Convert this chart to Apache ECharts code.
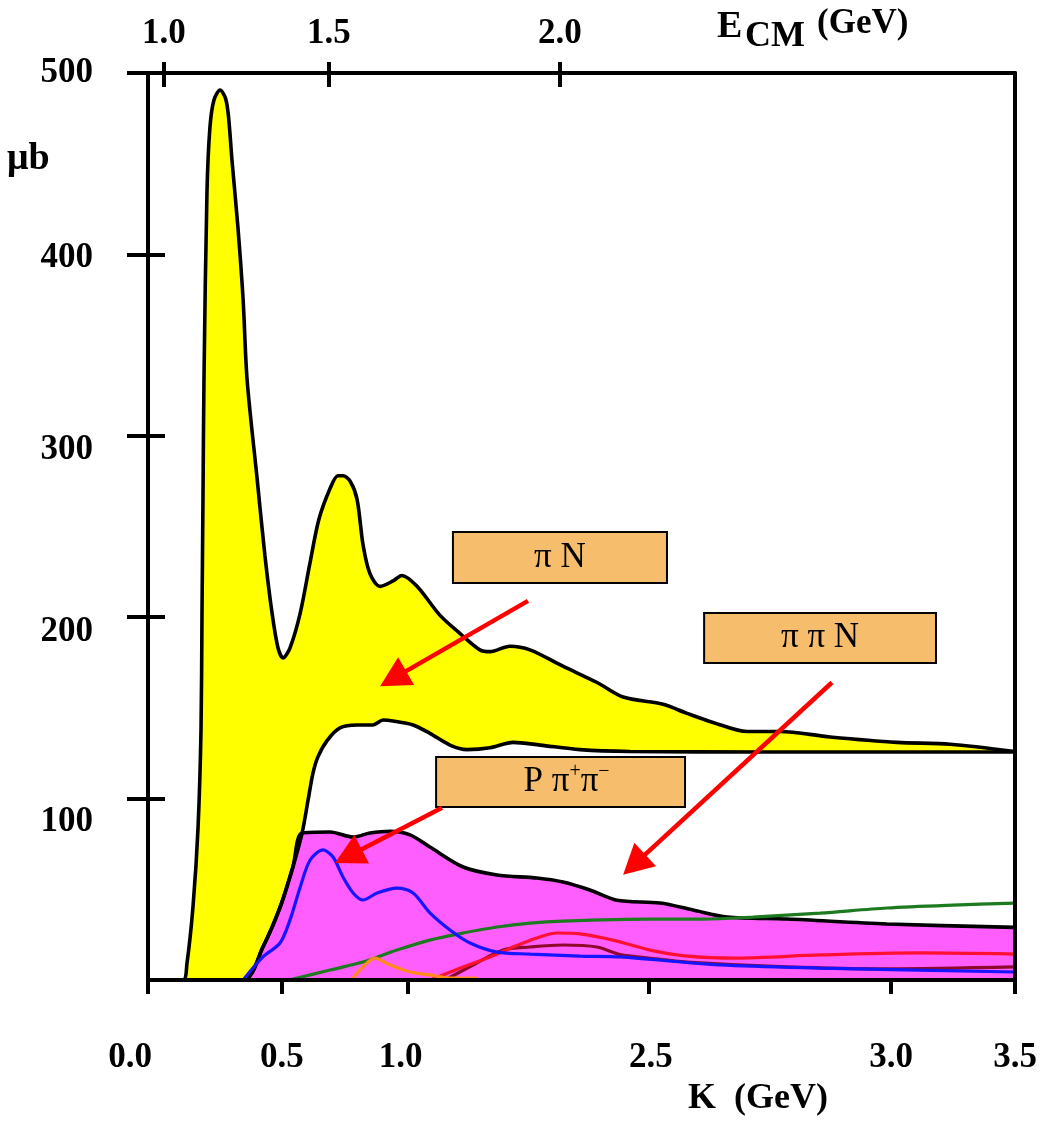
<!DOCTYPE html>
<html><head><meta charset="utf-8">
<script src="https://cdn.jsdelivr.net/npm/echarts@6/dist/echarts.min.js"></script>
<style>html,body{margin:0;padding:0;background:#fff}#c{width:1055px;height:1122px}</style>
</head><body><div id="c"></div>
<script>
// ---------- data (K in GeV, sigma in microbarn) ----------
const totalK = [0, 0.141, 0.157, 0.182, 0.202, 0.214, 0.218, 0.222, 0.226, 0.238, 0.250, 0.266, 0.291, 0.313, 0.325, 0.339, 0.363, 0.384, 0.400, 0.440, 0.472, 0.501, 0.525, 0.545, 0.573, 0.614, 0.654, 0.690, 0.735, 0.767, 0.787, 0.816, 0.844, 0.868, 0.896, 0.937, 0.989, 1.025, 1.086, 1.179, 1.260, 1.340, 1.381, 1.461, 1.542, 1.675, 1.813, 1.918, 2.079, 2.176, 2.281, 2.418, 2.551, 2.753, 3.024, 3.238, 3.5];
const totalS = [0, 0, 8.8, 41, 84, 138, 202, 266, 331, 434, 470, 485, 490.6, 486, 476, 452, 415, 375, 331, 277, 234, 202, 183, 177.5, 183, 202, 230, 254, 271, 278, 278, 275, 265, 240, 224, 217, 220, 223, 217, 201, 191, 182, 181, 184, 182, 173, 164, 156, 152, 147, 142, 137, 137, 134, 131, 130, 126];

const lowerK = [0, 0.384, 0.464, 0.533, 0.585, 0.622, 0.646, 0.666, 0.686, 0.723, 0.775, 0.844, 0.908, 0.949, 0.989, 1.070, 1.138, 1.219, 1.288, 1.381, 1.474, 1.583, 1.744, 1.946, 2.483, 3.5];
const lowerS = [0, 0, 18.2, 40, 62.3, 81, 99, 114, 123, 132, 139, 140.6, 140.6, 143.3, 142.8, 140.6, 136, 129.5, 127, 128, 131, 129.5, 127, 126, 125.7, 125.7];

const ppnK = [0, 0.384, 0.464, 0.533, 0.585, 0.622, 0.735, 0.828, 0.896, 0.977, 1.058, 1.138, 1.272, 1.409, 1.570, 1.675, 1.784, 1.893, 2.067, 2.200, 2.338, 2.580, 2.983, 3.5];
const ppnS = [0, 0, 18.2, 40, 62.3, 81, 81.6, 78.8, 81, 82, 80, 73.3, 62.3, 57.9, 56.2, 54, 49.6, 44, 42.4, 38.6, 34.7, 33.6, 30.9, 29];

const blueK = [0.384, 0.464, 0.533, 0.573, 0.614, 0.654, 0.707, 0.747, 0.787, 0.828, 0.868, 0.925, 1.005, 1.070, 1.138, 1.219, 1.300, 1.409, 1.542, 1.744, 1.906, 2.309, 2.713, 3.5];
const blueS = [0, 12.7, 20.4, 33, 51, 66, 71.7, 67.8, 56.8, 48, 44.1, 48, 50.7, 48, 37, 27.6, 20.4, 15.4, 14.3, 13.2, 12.7, 8.3, 6.6, 4.4];

const greenK = [0.57, 0.735, 0.868, 1.005, 1.138, 1.272, 1.409, 1.542, 1.675, 2.027, 2.241, 2.442, 2.713, 2.983, 3.250, 3.5];
const greenS = [0, 5.5, 9.9, 16.5, 22, 25.9, 29.2, 31.4, 32.5, 33.6, 33.6, 34.7, 36.9, 39.7, 41.3, 42.4];

const redK = [1.14, 1.272, 1.381, 1.474, 1.570, 1.651, 1.744, 1.877, 2.027, 2.176, 2.378, 2.713, 3.117, 3.5];
const redS = [0, 7.2, 12.7, 18.2, 23.2, 25.9, 25.4, 22, 16.5, 13.2, 12.1, 13.8, 14.9, 14.3];

const maroonK = [1.2, 1.32, 1.433, 1.542, 1.675, 1.813, 1.906, 2.027, 2.176, 2.580, 2.983, 3.5];
const maroonS = [0, 8.8, 16.5, 18.2, 19.3, 18.2, 14, 12, 9.9, 7.2, 6.1, 7.2];

const orangeK = [0.824, 0.868, 0.916, 0.977, 1.058, 1.138, 1.219, 1.328];
const orangeS = [0.5, 7.2, 12.1, 8.3, 4.4, 2.8, 1.1, 1.1];

// ---------- axes / ticks ----------
const bottomTickK = [0, 0.54, 1.05, 2.02, 3.0, 3.5];
const bottomLabelK = [0, 0.54, 1.02, 2.03, 3.0, 3.5];
const bottomTickLabels = ['0.0', '0.5', '1.0', '2.5', '3.0', '3.5'];
const yTickValues = [100, 200, 300, 400, 500];
const yLabelPos = [87, 192, 292, 398, 500];
const yTickLabels = ['100', '200', '300', '400', '500'];
const topTickE = [1.0, 1.5, 2.0];
const PROTON_MASS = 0.938;

// annotations: [text, K left, sigma top, K right, sigma bottom]
const boxes = [
  ['πN', 1.231, 247, 2.095, 218.9],
  ['ππN', 2.245, 202.3, 3.181, 174.8],
  ['Pππ', 1.163, 122.9, 2.168, 95.4]
];
// arrows: [K start, sigma start, K tip, sigma tip]
const arrows = [
  [1.534, 209, 0.937, 162],
  [2.761, 164, 1.918, 58],
  [1.187, 95, 0.755, 64.5]
];

const kFromE = e => (e * e - PROTON_MASS * PROTON_MASS) / (2 * PROTON_MASS);
const eFromK = k => Math.sqrt(PROTON_MASS * PROTON_MASS + 2 * PROTON_MASS * k);
const topTickK = topTickE.map(kFromE);
const pairs = (ks, ss) => ks.map((k, i) => [k, ss[i]]);
const nearest = (arr, v) => { let b = 0; arr.forEach((a, i) => { if (Math.abs(a - v) < Math.abs(arr[b] - v)) b = i; }); return b; };

const FONT = "'Liberation Serif', 'Times New Roman', serif";
const lbl = { fontFamily: FONT, fontWeight: 'bold', fontSize: 35, color: '#000' };

const chart = echarts.init(document.getElementById('c'), null, { renderer: 'canvas' });

function lineSeries(name, ks, ss, color, width, area) {
  const s = {
    name, type: 'line', data: pairs(ks, ss), smooth: 0.3, showSymbol: false, symbol: 'none',
    xAxisIndex: 0, yAxisIndex: 0,
    lineStyle: { color, width }, z: 2
  };
  if (area) s.areaStyle = { color: area, opacity: 1 };
  return s;
}
const tickStyle = { color: '#000', width: 4 };

chart.setOption({
  animation: false,
  backgroundColor: '#fff',
  grid: { left: 148, top: 73, width: 867, height: 907, show: false },
  xAxis: [
    {
      type: 'value', min: 0, max: 3.5, position: 'bottom', z: 10,
      axisLine: { show: true, onZero: false, lineStyle: { color: '#000', width: 4 } },
      axisTick: { show: true, customValues: bottomTickK, length: 14, lineStyle: tickStyle },
      axisLabel: Object.assign({
        customValues: bottomLabelK, margin: 60,
        formatter: v => { const i = nearest(bottomLabelK, v); return i === 0 ? '{z|' + bottomTickLabels[i] + '}' : bottomTickLabels[i]; },
        rich: { z: { fontFamily: FONT, fontWeight: 'bold', fontSize: 35, color: '#000', padding: [0, 36, 0, 0] } }
      }, lbl),
      splitLine: { show: false }
    },
    {
      type: 'value', min: 0, max: 3.5, position: 'top', z: 10,
      axisLine: { show: true, onZero: false, lineStyle: { color: '#000', width: 4 } },
      axisTick: { show: true, customValues: topTickK, length: 11, lineStyle: tickStyle },
      axisLabel: Object.assign({ customValues: topTickK, margin: 22, formatter: v => eFromK(v).toFixed(1) }, lbl),
      splitLine: { show: false }
    },
    {
      type: 'value', min: 0, max: 3.5, position: 'top', z: 10,
      axisLine: { show: false, onZero: false },
      axisTick: { show: true, inside: true, customValues: topTickK, length: 14, lineStyle: tickStyle },
      axisLabel: { show: false }, splitLine: { show: false }
    }
  ],
  yAxis: [
    {
      type: 'value', min: 0, max: 500, position: 'left', z: 10,
      axisLine: { show: true, onZero: false, lineStyle: { color: '#000', width: 4 } },
      axisTick: { show: true, customValues: yTickValues, length: 21, lineStyle: tickStyle },
      axisLabel: Object.assign({ customValues: yLabelPos, margin: 55, formatter: v => yTickLabels[nearest(yLabelPos, v)] }, lbl),
      splitLine: { show: false }
    },
    {
      type: 'value', min: 0, max: 500, position: 'left', z: 10,
      axisLine: { show: false, onZero: false },
      axisTick: { show: true, inside: true, customValues: yTickValues, length: 17, lineStyle: tickStyle },
      axisLabel: { show: false }, splitLine: { show: false }
    },
    {
      type: 'value', min: 0, max: 500, position: 'right', z: 10,
      axisLine: { show: true, onZero: false, lineStyle: { color: '#000', width: 4 } },
      axisTick: { show: false }, axisLabel: { show: false }, splitLine: { show: false }
    }
  ],
  series: [
    lineSeries('total', totalK, totalS, '#000', 3.6, '#FFFF00'),
    lineSeries('lower', lowerK, lowerS, '#000', 3.6, '#FFFFFF'),
    lineSeries('ppn', ppnK, ppnS, '#000', 3.6, '#FF5EFF'),
    lineSeries('green', greenK, greenS, '#1E7A1E', 3.2),
    lineSeries('maroon', maroonK, maroonS, '#8E0A2C', 3.2),
    lineSeries('red', redK, redS, '#FF1030', 3.2),
    lineSeries('blue', blueK, blueS, '#1515FF', 3.2),
    lineSeries('orange', orangeK, orangeS, '#FF8C1A', 3.2)
  ]
});

// ---------- annotations & axis titles ----------
const P = (k, s) => chart.convertToPixel({ xAxisIndex: 0, yAxisIndex: 0 }, [k, s]);
const g = [];
boxes.forEach(b => {
  const a = P(b[1], b[2]), c = P(b[3], b[4]);
  g.push({ type: 'rect', z: 50, shape: { x: a[0], y: a[1], width: c[0] - a[0], height: c[1] - a[1] },
    style: { fill: '#F6BE6C', stroke: '#000', lineWidth: 2 } });
  let txt;
  if (b[0] === 'πN') txt = '{n|π N}';
  else if (b[0] === 'ππN') txt = '{n|π π N}';
  else txt = '{n|P π}{s|+}{n|π}{s|−}';
  g.push({ type: 'text', z: 51, x: (a[0] + c[0]) / 2 + (b[0] === 'Pππ' ? 6 : 0), y: (a[1] + c[1]) / 2,
    style: { text: txt, align: 'center', verticalAlign: 'middle',
      rich: { n: { fontFamily: FONT, fontSize: 35, lineHeight: 40, fill: '#000' },
              s: { fontFamily: FONT, fontSize: 20, lineHeight: 40, verticalAlign: 'top', fill: '#000' } } } });
});
arrows.forEach(ar => {
  const s = P(ar[0], ar[1]), t = P(ar[2], ar[3]);
  const dx = t[0] - s[0], dy = t[1] - s[1], L = Math.hypot(dx, dy);
  const ux = dx / L, uy = dy / L, nx = -uy, ny = ux;
  const HL = 30, HW = 16;
  const bx = t[0] - ux * HL, by = t[1] - uy * HL;
  g.push({ type: 'line', z: 60, shape: { x1: s[0], y1: s[1], x2: bx + ux * 2, y2: by + uy * 2 },
    style: { stroke: '#FF0000', lineWidth: 4.5 } });
  g.push({ type: 'polygon', z: 60, shape: { points: [[t[0], t[1]], [bx + nx * HW, by + ny * HW], [bx - nx * HW, by - ny * HW]] },
    style: { fill: '#FF0000' } });
});
const tstyle = (text, size) => ({ text, fontFamily: FONT, fontWeight: 'bold', fontSize: size, fill: '#000' });
g.push({ type: 'text', z: 70, left: 7, top: 140, style: tstyle('μb', 38) });
g.push({ type: 'text', z: 70, left: 688, top: 1081, style: tstyle('K  (GeV)', 36) });
g.push({ type: 'text', z: 70, left: 717, top: 8, style: tstyle('E', 38) });
g.push({ type: 'text', z: 70, left: 745, top: 19, style: tstyle('CM', 36) });
g.push({ type: 'text', z: 70, left: 817, top: 6, style: tstyle('(GeV)', 35) });
chart.setOption({ graphic: g });
</script>
</body></html>
